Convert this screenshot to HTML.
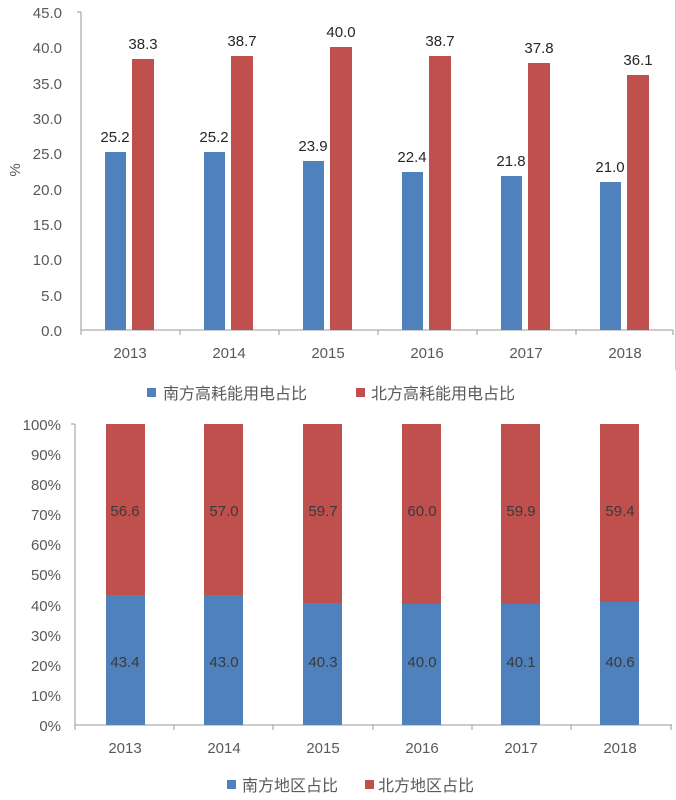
<!DOCTYPE html>
<html><head><meta charset="utf-8"><style>
html,body{margin:0;padding:0;background:#fff;}
svg{display:block;}
text{font-family:"Liberation Sans","Noto Sans CJK SC",sans-serif;}
</style></head><body>
<svg width="676" height="800" viewBox="0 0 676 800" xmlns="http://www.w3.org/2000/svg">
<g id="top" font-size="15" fill="#404040">
<line x1="81" y1="12" x2="81" y2="330" stroke="#9a9a9a" stroke-width="1"/>
<line x1="77" y1="12" x2="81" y2="12" stroke="#9a9a9a"/>
<line x1="81" y1="330" x2="673" y2="330" stroke="#9a9a9a"/>
<g stroke="#9a9a9a"><line x1="81" y1="330" x2="81" y2="335"/><line x1="180" y1="330" x2="180" y2="335"/><line x1="279" y1="330" x2="279" y2="335"/><line x1="378" y1="330" x2="378" y2="335"/><line x1="477" y1="330" x2="477" y2="335"/><line x1="576" y1="330" x2="576" y2="335"/><line x1="673" y1="330" x2="673" y2="335"/></g>
<g text-anchor="end" fill="#595959">
<text x="62" y="18">45.0</text><text x="62" y="53">40.0</text><text x="62" y="89">35.0</text><text x="62" y="124">30.0</text><text x="62" y="159">25.0</text><text x="62" y="195">20.0</text><text x="62" y="230">15.0</text><text x="62" y="265">10.0</text><text x="62" y="301">5.0</text><text x="62" y="336">0.0</text>
</g>
<text x="20" y="170" transform="rotate(-90 20 170)" text-anchor="middle" fill="#595959">%</text>
<g fill="#4f81bd">
<rect x="105" y="152" width="21" height="178"/><rect x="204" y="152" width="21" height="178"/><rect x="303" y="161" width="21" height="169"/><rect x="402" y="172" width="21" height="158"/><rect x="501" y="176" width="21" height="154"/><rect x="600" y="182" width="21" height="148"/>
</g>
<g fill="#c0504d">
<rect x="132" y="59" width="22" height="271"/><rect x="231" y="56" width="22" height="274"/><rect x="330" y="47" width="22" height="283"/><rect x="429" y="56" width="22" height="274"/><rect x="528" y="63" width="22" height="267"/><rect x="627" y="75" width="22" height="255"/>
</g>
<g text-anchor="middle" fill="#262626">
<text x="115" y="142">25.2</text><text x="143" y="49">38.3</text>
<text x="214" y="142">25.2</text><text x="242" y="46">38.7</text>
<text x="313" y="151">23.9</text><text x="341" y="37">40.0</text>
<text x="412" y="162">22.4</text><text x="440" y="46">38.7</text>
<text x="511" y="166">21.8</text><text x="539" y="53">37.8</text>
<text x="610" y="172">21.0</text><text x="638" y="65">36.1</text>
</g>
<g text-anchor="middle" fill="#595959">
<text x="130" y="358">2013</text><text x="229" y="358">2014</text><text x="328" y="358">2015</text><text x="427" y="358">2016</text><text x="526" y="358">2017</text><text x="625" y="358">2018</text>
</g>
<rect x="147" y="388" width="9" height="9" fill="#4f81bd"/>
<text x="163" y="399" font-size="16" fill="#595959">南方高耗能用电占比</text>
<rect x="356" y="388" width="9" height="9" fill="#c0504d"/>
<text x="371" y="399" font-size="16" fill="#595959">北方高耗能用电占比</text>
</g>
<g id="bottom" font-size="15">
<line x1="75" y1="424" x2="75" y2="725" stroke="#9a9a9a"/>
<line x1="71" y1="424" x2="75" y2="424" stroke="#9a9a9a"/>
<line x1="75" y1="725" x2="672" y2="725" stroke="#9a9a9a"/>
<g stroke="#9a9a9a"><line x1="75" y1="725" x2="75" y2="730"/><line x1="174" y1="725" x2="174" y2="730"/><line x1="273" y1="725" x2="273" y2="730"/><line x1="373" y1="725" x2="373" y2="730"/><line x1="472" y1="725" x2="472" y2="730"/><line x1="571" y1="725" x2="571" y2="730"/><line x1="671" y1="725" x2="671" y2="730"/></g>
<g text-anchor="end" fill="#595959">
<text x="61" y="430">100%</text><text x="61" y="460">90%</text><text x="61" y="490">80%</text><text x="61" y="520">70%</text><text x="61" y="550">60%</text><text x="61" y="580">50%</text><text x="61" y="611">40%</text><text x="61" y="641">30%</text><text x="61" y="671">20%</text><text x="61" y="701">10%</text><text x="61" y="731">0%</text>
</g>
<g fill="#c0504d">
<rect x="106" y="424" width="39" height="171"/><rect x="204" y="424" width="39" height="171"/><rect x="303" y="424" width="39" height="179"/><rect x="402" y="424" width="39" height="180"/><rect x="501" y="424" width="39" height="180"/><rect x="600" y="424" width="39" height="178"/>
</g>
<g fill="#4f81bd">
<rect x="106" y="595" width="39" height="130"/><rect x="204" y="595" width="39" height="130"/><rect x="303" y="603" width="39" height="122"/><rect x="402" y="604" width="39" height="121"/><rect x="501" y="604" width="39" height="121"/><rect x="600" y="602" width="39" height="123"/>
</g>
<g text-anchor="middle" fill="#3a3a3a">
<text x="125" y="516">56.6</text><text x="224" y="516">57.0</text><text x="323" y="516">59.7</text><text x="422" y="516">60.0</text><text x="521" y="516">59.9</text><text x="620" y="516">59.4</text>
<text x="125" y="667">43.4</text><text x="224" y="667">43.0</text><text x="323" y="667">40.3</text><text x="422" y="667">40.0</text><text x="521" y="667">40.1</text><text x="620" y="667">40.6</text>
</g>
<g text-anchor="middle" fill="#595959">
<text x="125" y="753">2013</text><text x="224" y="753">2014</text><text x="323" y="753">2015</text><text x="422" y="753">2016</text><text x="521" y="753">2017</text><text x="620" y="753">2018</text>
</g>
<rect x="227" y="780" width="9" height="9" fill="#4f81bd"/>
<text x="242" y="791" font-size="16" fill="#595959">南方地区占比</text>
<rect x="365" y="780" width="9" height="9" fill="#c0504d"/>
<text x="378" y="791" font-size="16" fill="#595959">北方地区占比</text>
</g>
<line x1="675.5" y1="0" x2="675.5" y2="370" stroke="#ccc"/>
</svg>
</body></html>
